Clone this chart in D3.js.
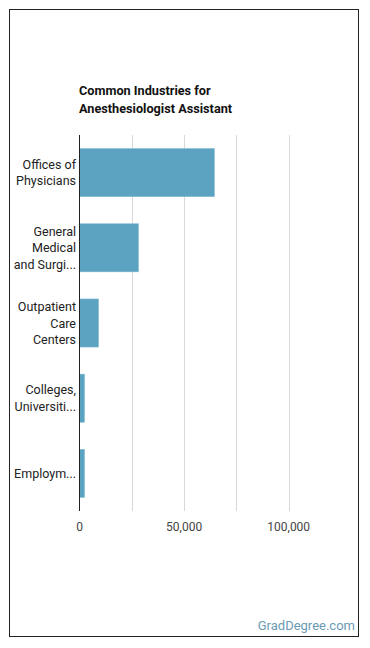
<!DOCTYPE html>
<html>
<head>
<meta charset="utf-8">
<script src="https://cdn.jsdelivr.net/npm/d3@7"></script>
<style>
  body { margin: 0; background: #fff; }
  text { font-family: Roboto, "Noto Sans", sans-serif; }
</style>
</head>
<body>
<svg id="chart" width="370" height="648"></svg>
<script>
// industries and job counts
var industries = [
  ["Offices of", "Physicians"],
  ["General", "Medical", "and Surgi..."],
  ["Outpatient", "Care", "Centers"],
  ["Colleges,", "Universiti..."],
  ["Employm..."]
];
var jobs = [64500, 28200, 9100, 2400, 2400];
var tickValues = [0, 50000, 100000];
var gridValues = [25000, 50000, 75000, 100000];
var titleLines = ["Common Industries for", "Anesthesiologist Assistant"];

var svg = d3.select("#chart");

// outer frame
svg.append("rect")
  .attr("x", 9.5)
  .attr("y", 9.5)
  .attr("width", 349)
  .attr("height", 627)
  .attr("fill", "none")
  .attr("stroke", "#222")
  .attr("stroke-width", 1);

svg.append("text")
  .attr("x", 79)
  .attr("y", 95)
  .attr("font-size", 12.7)
  .attr("font-weight", "bold")
  .attr("fill", "#111")
  .selectAll("tspan")
  .data(titleLines)
  .enter().append("tspan")
  .attr("x", 79)
  .attr("dy", function(d, i){ return i ? 18 : 0; })
  .text(function(d){ return d; });

var x = d3.scaleLinear().domain([0, 125000]).range([79.5, 341]);
var y = d3.scaleBand().domain(d3.range(jobs.length)).range([135, 511]).paddingInner(0.36).paddingOuter(0.18);

// grid
svg.append("g").selectAll("line")
  .data(gridValues)
  .enter().append("line")
  .attr("x1", function(d){ return Math.round(x(d)) + 0.5; })
  .attr("x2", function(d){ return Math.round(x(d)) + 0.5; })
  .attr("y1", 135)
  .attr("y2", 511)
  .attr("stroke", "#d9d9d9")
  .attr("stroke-width", 1);

svg.append("g").selectAll("rect")
  .data(jobs)
  .enter().append("rect")
  .attr("x", x(0))
  .attr("y", function(d, i){ return y(i); })
  .attr("width", function(d){ return x(d) - x(0); })
  .attr("height", y.bandwidth())
  .attr("fill", "#5ca3c1")
  .attr("stroke", "#7fb9d1")
  .attr("stroke-width", 0.5);

// y axis line
svg.append("line")
  .attr("x1", 79.5).attr("x2", 79.5)
  .attr("y1", 135).attr("y2", 511)
  .attr("stroke", "#222");

// category labels
var lab = svg.append("g").selectAll("text")
  .data(industries)
  .enter().append("text")
  .attr("text-anchor", "end")
  .attr("font-size", 12.5)
  .attr("fill", "#222")
  .attr("transform", function(d, i){
    var cy = y(i) + y.bandwidth() / 2;
    return "translate(76," + (cy - (d.length - 1) * 16.5 / 2 + 4.5) + ")";
  });
lab.selectAll("tspan")
  .data(function(d){ return d; })
  .enter().append("tspan")
  .attr("x", 0)
  .attr("y", function(d, i){ return i * 16.5; })
  .text(function(d){ return d; });

// x tick labels
svg.append("g").selectAll("text")
  .data(tickValues)
  .enter().append("text")
  .attr("x", function(d){ return x(d); })
  .attr("y", 531)
  .attr("text-anchor", "middle")
  .attr("font-size", 12)
  .attr("fill", "#444")
  .text(d3.format(","));

svg.append("text")
  .attr("x", 355)
  .attr("y", 630)
  .attr("text-anchor", "end")
  .attr("font-size", 13)
  .attr("fill", "#6a9bb3")
  .text("GradDegree.com");
</script>
</body>
</html>
